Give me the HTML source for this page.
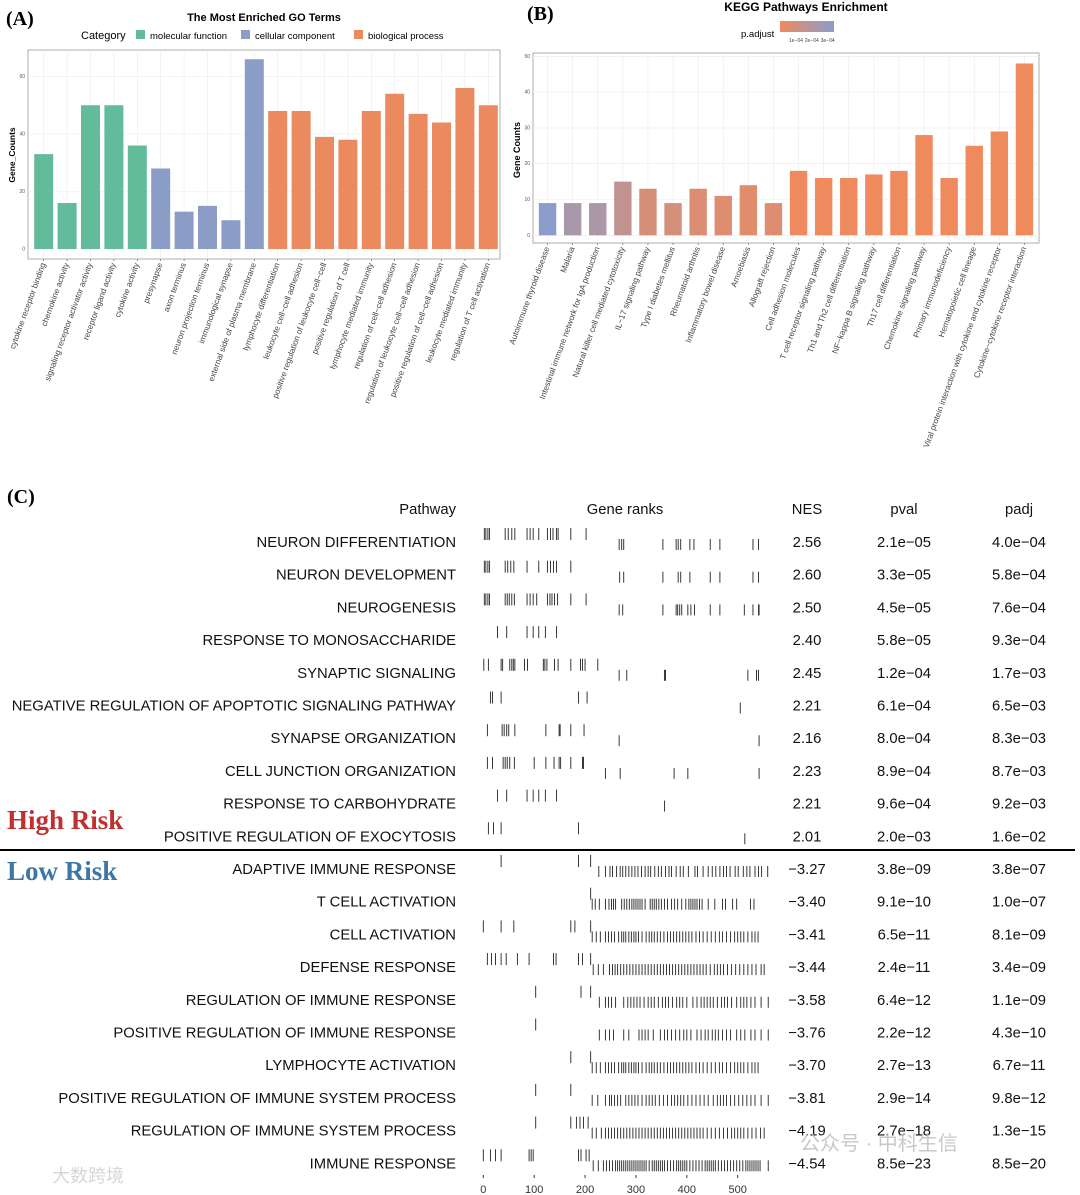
<!DOCTYPE html>
<html><head><meta charset="utf-8">
<style>
html,body{margin:0;padding:0;background:#fff;}
svg{display:block;font-family:"Liberation Sans","Noto Sans CJK SC",sans-serif;}
</style></head>
<body>
<svg id="root" width="1080" height="1195" viewBox="0 0 1080 1195" xmlns="http://www.w3.org/2000/svg">
<g id="panelA"></g>
<g id="panelB"></g>
<g id="panelC"></g>
</svg>
<script>
// ---------- Panel A data ----------
const goTerms = ["cytokine receptor binding","chemokine activity","signaling receptor activator activity","receptor ligand activity","cytokine activity","presynapse","axon terminus","neuron projection terminus","immunological synapse","external side of plasma membrane","lymphocyte differentiation","leukocyte cell\u2212cell adhesion","positive regulation of leukocyte cell\u2212cell","positive regulation of T cell","lymphocyte mediated immunity","regulation of cell\u2212cell adhesion","regulation of leukocyte cell\u2212cell adhesion","positive regulation of cell\u2212cell adhesion","leukocyte mediated immunity","regulation of T cell activation"];
const goCounts = [33,16,50,50,36,28,13,15,10,66,48,48,39,38,48,54,47,44,56,50];
const goCategory = ["mf","mf","mf","mf","mf","cc","cc","cc","cc","cc","bp","bp","bp","bp","bp","bp","bp","bp","bp","bp"];
const goTicks = [0,20,40,60];
// ---------- Panel B data ----------
const keggTerms = ["Autoimmune thyroid disease","Malaria","Intestinal immune network for IgA production","Natural killer cell mediated cytotoxicity","IL\u221217 signaling pathway","Type I diabetes mellitus","Rheumatoid arthritis","Inflammatory bowel disease","Amoebiasis","Allograft rejection","Cell adhesion molecules","T cell receptor signaling pathway","Th1 and Th2 cell differentiation","NF\u2212kappa B signaling pathway","Th17 cell differentiation","Chemokine signaling pathway","Primary immunodeficiency","Hematopoietic cell lineage","Viral protein interaction with cytokine and cytokine receptor","Cytokine\u2212cytokine receptor interaction"];
const keggCounts = [9,9,9,15,13,9,13,11,14,9,18,16,16,17,18,28,16,25,29,48];
const keggPadj = [3.4e-4,2.4e-4,2.3e-4,1.6e-4,9e-5,1e-4,7e-5,6e-5,5e-5,6e-5,2e-6,3e-6,3e-6,2e-6,2e-6,1e-6,4e-6,2e-6,1e-6,1e-7];
const keggTicks = [0,10,20,30,40,50];
// ---------- Panel C data ----------
const pathways = ["NEURON DIFFERENTIATION","NEURON DEVELOPMENT","NEUROGENESIS","RESPONSE TO MONOSACCHARIDE","SYNAPTIC SIGNALING","NEGATIVE REGULATION OF APOPTOTIC SIGNALING PATHWAY","SYNAPSE ORGANIZATION","CELL JUNCTION ORGANIZATION","RESPONSE TO CARBOHYDRATE","POSITIVE REGULATION OF EXOCYTOSIS","ADAPTIVE IMMUNE RESPONSE","T CELL ACTIVATION","CELL ACTIVATION","DEFENSE RESPONSE","REGULATION OF IMMUNE RESPONSE","POSITIVE REGULATION OF IMMUNE RESPONSE","LYMPHOCYTE ACTIVATION","POSITIVE REGULATION OF IMMUNE SYSTEM PROCESS","REGULATION OF IMMUNE SYSTEM PROCESS","IMMUNE RESPONSE"];
const nes = ["2.56","2.60","2.50","2.40","2.45","2.21","2.16","2.23","2.21","2.01","\u22123.27","\u22123.40","\u22123.41","\u22123.44","\u22123.58","\u22123.76","\u22123.70","\u22123.81","\u22124.19","\u22124.54"];
const pvals = ["2.1e\u221205","3.3e\u221205","4.5e\u221205","5.8e\u221205","1.2e\u221204","6.1e\u221204","8.0e\u221204","8.9e\u221204","9.6e\u221204","2.0e\u221203","3.8e\u221209","9.1e\u221210","6.5e\u221211","2.4e\u221211","6.4e\u221212","2.2e\u221212","2.7e\u221213","2.9e\u221214","2.7e\u221218","8.5e\u221223"];
const padjs = ["4.0e\u221204","5.8e\u221204","7.6e\u221204","9.3e\u221204","1.7e\u221203","6.5e\u221203","8.3e\u221203","8.7e\u221203","9.2e\u221203","1.6e\u221202","3.8e\u221207","1.0e\u221207","8.1e\u221209","3.4e\u221209","1.1e\u221209","4.3e\u221210","6.7e\u221211","9.8e\u221212","1.3e\u221215","8.5e\u221220"];
const rankTicks = [0,100,200,300,400,500];
const geneRanks = [
[2,5,9,12,43,49,56,62,86,92,98,109,126,132,137,144,147,172,202,267,272,276,353,379,383,388,406,414,446,465,530,541],
[2,5,9,12,43,48,54,60,86,109,126,132,138,144,172,268,276,353,383,388,406,446,465,530,541],
[2,5,9,12,43,47,51,56,61,86,92,98,105,126,131,135,140,146,172,202,267,274,353,379,382,386,390,402,408,415,446,465,513,530,541,542],
[28,46,86,98,109,122,144],
[1,10,35,38,52,56,59,62,81,87,118,121,125,140,147,172,191,195,200,225,267,282,356,358,520,537,541],
[14,18,35,187,204,505],
[8,37,41,46,50,62,123,149,151,172,198,267,542],
[8,18,39,43,47,52,61,100,123,139,149,152,172,195,197,240,269,375,402,542],
[28,46,86,98,109,122,144,356],
[10,20,35,187,514],
[35,187,211,227,240,249,254,262,269,274,280,286,292,298,304,311,318,324,329,337,344,350,358,365,370,379,387,393,403,416,421,432,442,450,457,465,472,478,485,495,501,511,518,524,534,541,547,559],
[211,214,220,228,240,247,252,256,260,272,277,282,287,292,296,300,304,308,312,318,328,332,336,340,345,350,356,362,370,376,382,390,398,404,408,412,416,420,425,430,442,455,470,476,490,498,525,532],
[0,35,60,172,180,211,214,222,230,240,246,252,258,266,272,276,280,286,291,296,300,305,312,320,326,331,336,342,348,355,362,368,374,380,386,392,398,404,410,418,425,432,440,448,456,464,470,478,486,494,500,506,512,520,528,534,540],
[8,16,24,35,45,67,90,138,143,187,195,211,216,226,236,248,254,259,264,270,276,282,288,294,300,306,312,318,324,330,336,342,348,354,360,366,372,378,384,390,396,402,408,414,420,426,432,438,446,454,460,466,472,480,488,496,504,512,520,528,536,546,552],
[103,192,211,228,240,246,252,260,276,284,290,296,302,308,316,324,330,336,344,352,358,364,372,380,386,392,400,412,420,428,434,440,446,452,460,468,474,480,488,498,506,512,518,526,534,546,560],
[103,228,240,248,256,276,286,306,312,318,324,334,348,356,362,370,378,386,394,400,408,420,428,436,442,450,456,462,470,478,486,498,506,514,526,534,546,560],
[172,211,214,222,230,240,246,252,258,266,272,276,280,286,291,296,300,305,312,320,326,331,336,342,348,355,362,368,374,380,386,392,398,404,410,418,425,432,440,448,456,464,470,478,486,494,500,506,512,520,528,534,540],
[103,172,214,225,240,248,252,258,264,270,280,286,292,298,304,312,320,326,332,338,346,354,362,370,376,382,388,394,402,410,418,426,434,442,452,460,466,472,478,486,494,502,510,518,526,534,546,560],
[103,172,183,190,197,206,214,222,232,240,246,252,258,264,270,276,282,288,294,300,306,312,318,324,330,336,342,348,354,360,366,372,378,384,390,396,402,408,414,420,426,432,440,448,456,464,472,480,488,494,500,506,512,520,528,536,545,552],
[0,14,24,35,90,94,98,187,192,202,208,216,226,236,242,248,254,260,264,268,272,276,280,284,288,292,296,300,304,308,312,316,320,326,332,336,340,344,348,352,356,362,368,374,380,384,388,392,396,400,406,412,418,424,430,436,440,444,448,452,456,462,468,474,480,486,492,498,504,510,516,520,524,528,532,536,540,544,560]
];

const NS="http://www.w3.org/2000/svg";
function mk(parent,tag,attrs,text){const e=document.createElementNS(NS,tag);for(const k in attrs)e.setAttribute(k,attrs[k]);if(text!==undefined)e.textContent=text;parent.appendChild(e);return e;}

// ===== Panel A =====
(function(){
const g=document.getElementById('panelA');
const x0=28,x1=500,yTop=50,yBot=259;
const yA=v=>249-v*2.875;
const step=(x1-x0-4)/goCounts.length;
const xA=i=>x0+4+step*(i+0.5);
const col={mf:"#62bb9b",cc:"#8b9dc7",bp:"#ec8a5f"};
let t=mk(g,'text',{x:6,y:25,'font-family':'Liberation Serif,serif','font-size':20,'font-weight':'bold'},'(A)');

t=mk(g,'text',{x:264,y:21,'text-anchor':'middle','font-size':11,'font-weight':'bold'},'The Most Enriched GO Terms');

const lg=mk(g,'g',{});
mk(lg,'text',{x:81,y:39,'font-size':11},'Category');
[["mf","molecular function",136],["cc","cellular component",241],["bp","biological process",354]].forEach(([k,l,x])=>{
 const e=mk(lg,'g',{});
 mk(e,'rect',{x:x,y:30,width:9,height:9,fill:col[k]});
 mk(e,'text',{x:x+14,y:39,'font-size':9.5},l);
});
mk(g,'rect',{x:x0,y:yTop,width:x1-x0,height:yBot-yTop,fill:'#fff',stroke:'#999','stroke-width':0.8});
goTicks.forEach(v=>{
 mk(g,'line',{x1:x0,x2:x1,y1:yA(v),y2:yA(v),stroke:'#ebebeb','stroke-width':0.6});
 const tl=mk(g,'text',{x:25,y:yA(v)+1.5,'text-anchor':'end','font-size':5,fill:'#555'},String(v));
 
});
goCounts.forEach((v,i)=>mk(g,'line',{x1:xA(i),x2:xA(i),y1:yTop,y2:yBot,stroke:'#ebebeb','stroke-width':0.6}));
goCounts.forEach((v,i)=>{
 const b=mk(g,'rect',{x:xA(i)-9.5,y:yA(v),width:19,height:yA(0)-yA(v),fill:col[goCategory[i]]});
 
 mk(g,'line',{x1:xA(i),x2:xA(i),y1:yBot,y2:yBot+2,stroke:'#555','stroke-width':0.6});
 const l=mk(g,'text',{transform:`translate(${xA(i)+2},${yBot+5}) rotate(-70)`,'text-anchor':'end','font-size':8.2,fill:'#444'},goTerms[i]);
 
});
t=mk(g,'text',{transform:'translate(15,155) rotate(-90)','text-anchor':'middle','font-size':8.5,'font-weight':'bold'},'Gene_Counts');

})();

// ===== Panel B =====
(function(){
const g=document.getElementById('panelB');
const x0=533,x1=1039,yTop=53,yBot=243;
const yB=v=>235.3-v*3.58;
const step=(x1-x0-4)/keggCounts.length;
const xB=i=>x0+2+step*(i+0.5);
const pmax=3.4e-4;
function pc(p){const f=Math.min(1,p/pmax);const a=[239,138,92],b=[140,157,203];return `rgb(${a.map((c,k)=>Math.round(c+(b[k]-c)*f)).join(',')})`;}
let t=mk(g,'text',{x:527,y:20,'font-family':'Liberation Serif,serif','font-size':20,'font-weight':'bold'},'(B)');

t=mk(g,'text',{x:806,y:11,'text-anchor':'middle','font-size':12,'font-weight':'bold'},'KEGG Pathways Enrichment');

const defs=mk(g,'defs',{});const gr=mk(defs,'linearGradient',{id:'pg',x1:0,x2:1,y1:0,y2:0});
mk(gr,'stop',{offset:0,'stop-color':pc(0)});mk(gr,'stop',{offset:1,'stop-color':pc(pmax)});
const lg=mk(g,'g',{});
mk(lg,'text',{x:741,y:37,'font-size':9.5},'p.adjust');
mk(lg,'rect',{x:780,y:21,width:54,height:11,fill:'url(#pg)'});
[[1e-4,'1e\u221204'],[2e-4,'2e\u221204'],[3e-4,'3e\u221204']].forEach(([v,s])=>mk(lg,'text',{x:780+54*v/pmax,y:42,'text-anchor':'middle','font-size':5,fill:'#444'},s));
mk(g,'rect',{x:x0,y:yTop,width:x1-x0,height:yBot-yTop,fill:'#fff',stroke:'#999','stroke-width':0.8});
keggTicks.forEach(v=>{
 mk(g,'line',{x1:x0,x2:x1,y1:yB(v),y2:yB(v),stroke:'#ebebeb','stroke-width':0.6});
 const tl=mk(g,'text',{x:530,y:yB(v)+1.5,'text-anchor':'end','font-size':5,fill:'#555'},String(v));
 
});
keggCounts.forEach((v,i)=>mk(g,'line',{x1:xB(i),x2:xB(i),y1:yTop,y2:yBot,stroke:'#ebebeb','stroke-width':0.6}));
keggCounts.forEach((v,i)=>{
 const b=mk(g,'rect',{x:xB(i)-8.7,y:yB(v),width:17.4,height:yB(0)-yB(v),fill:pc(keggPadj[i])});
 
 mk(g,'line',{x1:xB(i),x2:xB(i),y1:yBot,y2:yBot+2,stroke:'#555','stroke-width':0.6});
 const l=mk(g,'text',{transform:`translate(${xB(i)+2},${yBot+5}) rotate(-70)`,'text-anchor':'end','font-size':8.2,fill:'#444'},keggTerms[i]);
 
});
t=mk(g,'text',{transform:'translate(520,150) rotate(-90)','text-anchor':'middle','font-size':9,'font-weight':'bold'},'Gene Counts');

})();

// ===== Panel C =====
(function(){
const g=document.getElementById('panelC');
const xR=r=>483.3+r*0.5088;
const rowY=i=>542+i*32.7;
let t=mk(g,'text',{x:7,y:503,'font-family':'Liberation Serif,serif','font-size':20,'font-weight':'bold'},'(C)');

[["Pathway",456,'end'],["Gene ranks",625,'middle'],["NES",807,'middle'],["pval",904,'middle'],["padj",1019,'middle']].forEach(([s,x,a])=>{
 const h=mk(g,'text',{x:x,y:514,'text-anchor':a,'font-size':14.8,fill:'#111'},s);
 
});
pathways.forEach((p,i)=>{
 const y=rowY(i);
 const row=mk(g,'g',{});
 mk(row,'text',{x:456,y:y+5,'text-anchor':'end','font-size':14.8,fill:'#111'},p);
 mk(row,'text',{x:807,y:y+5,'text-anchor':'middle','font-size':14.8,fill:'#111'},nes[i]);
 mk(row,'text',{x:904,y:y+5,'text-anchor':'middle','font-size':14.8,fill:'#111'},pvals[i]);
 mk(row,'text',{x:1019,y:y+5,'text-anchor':'middle','font-size':14.8,fill:'#111'},padjs[i]);
 const split=i<10?230:212;
 geneRanks[i].forEach(r=>{
  const x=xR(r);const up=r<split;
  const m=mk(row,'line',{x1:x,x2:x,y1:up?y-14:y-3,y2:up?y-2:y+8,stroke:'#222','stroke-width':0.9});
  
 });
});
const sep=mk(g,'line',{x1:0,x2:1075,y1:850,y2:850,stroke:'#000','stroke-width':2});

t=mk(g,'text',{x:7,y:829,'font-family':'Liberation Serif,serif','font-size':27,'font-weight':'bold',fill:'#c0302f'},'High Risk');

t=mk(g,'text',{x:7,y:880,'font-family':'Liberation Serif,serif','font-size':27,'font-weight':'bold',fill:'#3d77a6'},'Low Risk');

rankTicks.forEach(v=>{
 mk(g,'line',{x1:xR(v),x2:xR(v),y1:1175,y2:1178,stroke:'#333','stroke-width':1});
 const tl=mk(g,'text',{x:xR(v),y:1193,'text-anchor':'middle','font-size':11,fill:'#333'},String(v));
 
});
t=mk(g,'text',{x:800,y:1150,'font-size':20,fill:'#bbb','opacity':0.8},'公众号 · 中科生信');

t=mk(g,'text',{x:52,y:1182,'font-size':18,fill:'#ccc','opacity':0.8},'大数跨境');

})();
</script>
</body></html>
